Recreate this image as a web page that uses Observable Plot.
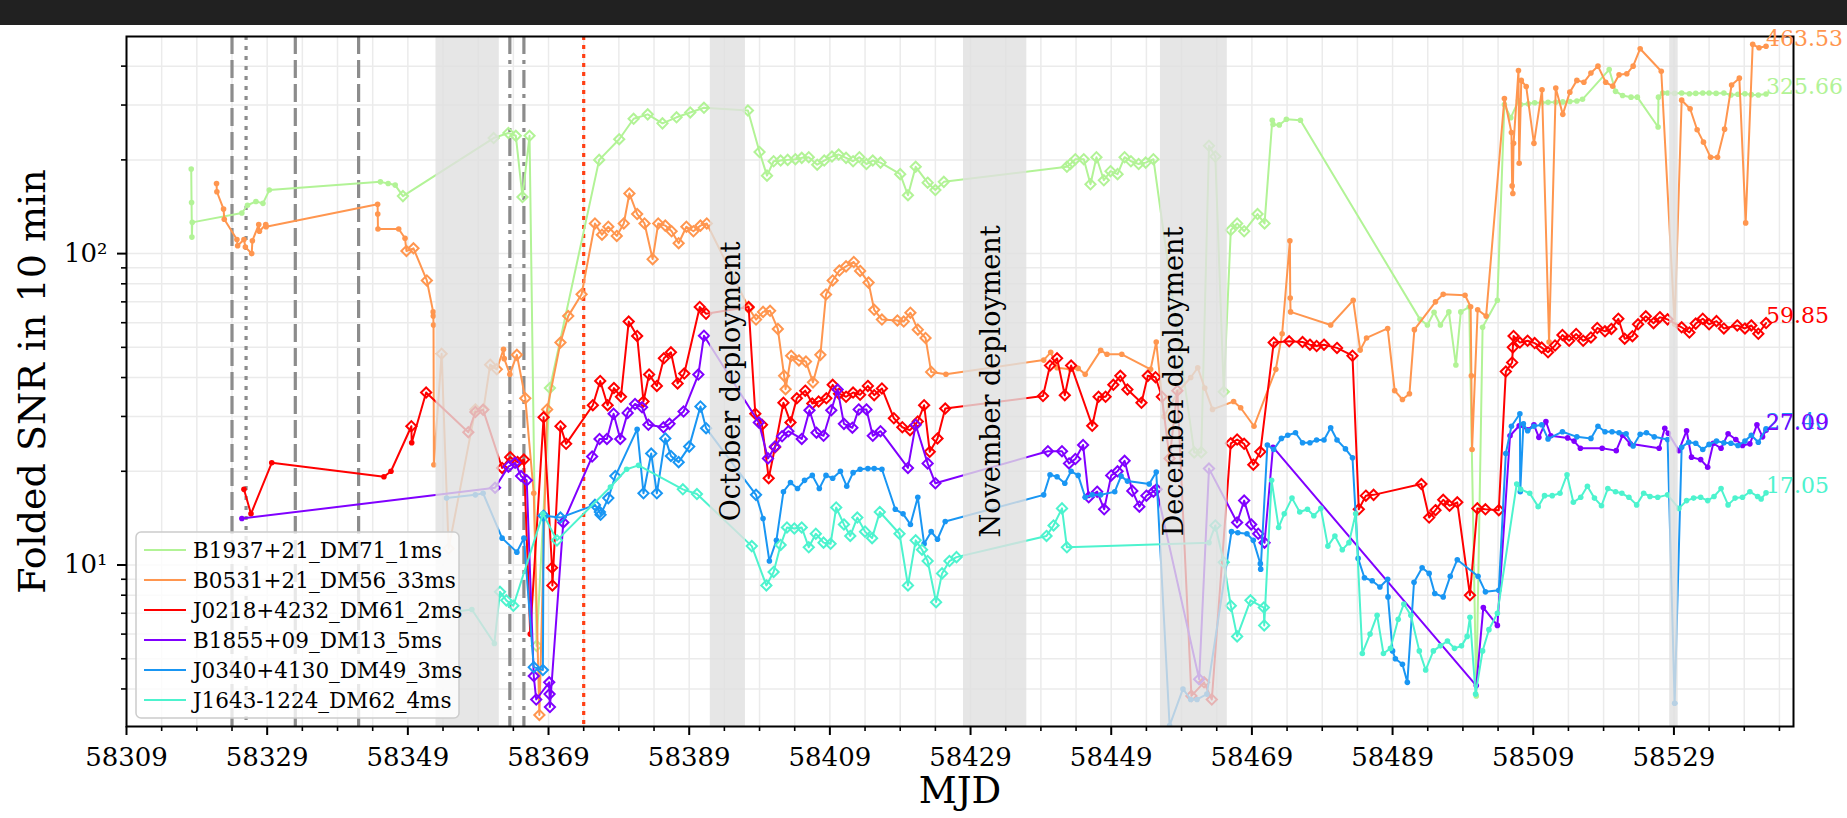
<!DOCTYPE html>
<html><head><meta charset="utf-8">
<script src="https://cdn.jsdelivr.net/npm/d3@7"></script>
<script src="https://cdn.jsdelivr.net/npm/@observablehq/plot@0.6"></script>
<style>
html,body{margin:0;padding:0;background:#fff;width:1847px;height:818px;overflow:hidden;}
#band{height:25px;background:#212121;}
#chart svg{display:block;}
</style></head><body>
<div id="band"></div>
<div id="chart"></div>
<script>
// ---------- data ----------
const seriesNames = ["B1937+21_DM71_1ms","B0531+21_DM56_33ms","J0218+4232_DM61_2ms","B1855+09_DM13_5ms","J0340+4130_DM49_3ms","J1643-1224_DM62_4ms"];
const seriesColors = ["#b2f396","#ff964f","#ff0000","#8000ff","#1996f3","#4df3ce"];

const B1937 = [[58318.2,187],[58318.25,146],[58318.3,113],[58318.35,126],[58325.4,135],[58326.2,143],[58327.4,147],[58328.4,145],[58329.3,160],
[58345.1,170],[58346.2,168],[58347.2,166],[58348.3,153],[58361.2,235],[58363.3,244],[58364.35,239],[58365.3,152],[58366.3,239],[58367.3,5.5],[58369.2,37],
[58376.2,200],[58379.05,233],[58381.1,271],[58383.1,280],[58385.2,262],[58387.2,274],[58389.15,284],[58391.1,294],
[58397.35,288],[58399.0,212],[58400.06,178],[58401.0,198],[58402.0,199],[58403,200],[58404.1,201],[58405.0,203],[58406.0,204],[58407.2,193],[58408.2,199],[58409.3,205],[58410.25,208],[58411.3,203],[58412.3,198],[58413.2,204],[58414.2,194],[58415.1,199],[58416.2,196],[58419.0,180],[58420.1,154],[58421.2,190],[58422.9,169],[58424.0,160],[58425.2,170],
[58442.7,190],[58443.2,194],[58443.9,201],[58445.1,201],[58446.05,167],[58446.9,204],[58447.95,172],[58448.9,184],[58449.9,180],[58450.9,204],[58451.8,198],[58452.9,194],[58453.9,196],[58455.0,201],
[58460.8,23],[58461.8,23],[58462.9,222],[58463.8,205],[58465.0,36],
[58466.0,119],[58466.9,125],[58467.9,118],[58469.8,134],[58470.8,125],[58471.9,268],[58472.0,260],[58472.9,259],[58473.9,270],[58475.9,268],
[58492.9,61.5],[58493.95,59],[58494.9,64.8],[58495.8,59],[58497.0,65],[58498.0,43.9],[58498.7,65],[58499.9,67.4],[58500.9,3.8],[58501.8,58],[58503.9,70.8],
[58504.9,301],[58505.8,273],[58506.9,310],[58507.2,301],[58508.3,303],[58509.2,305],[58510.2,305],[58511.1,306],[58512.2,306],[58513.2,307],[58514.2,308],[58515.2,309],[58516.0,313],
[58519.8,390],[58520.7,332],[58521.7,322],[58522.9,318],[58523.8,318],[58526.75,255],[58526.8,318],[58527.4,328],[58528.1,328],[58529.1,327],[58530.1,328],[58531.2,326],[58532.1,327],[58533.1,328],[58534.0,328],[58535.0,327],[58536.1,328],[58537.1,323],[58538.1,325],[58539.1,326],[58540.0,324],[58541.0,323],[58542.1,325.66]];

const B0531 = [[58321.8,168],[58321.85,158],[58322.8,139],[58322.9,129],[58324.7,111],[58324.8,106],[58325.7,111],[58325.9,105],[58326.8,100],[58326.9,110],[58327.8,124],[58327.9,118],[58328.8,124],[58328.85,122],
[58344.7,144],[58344.72,134],[58344.75,120],[58347.7,120],[58348.6,112],[58348.8,102],[58349.8,104],[58351.7,82],[58352.6,65],[58352.62,63],[58352.65,59],[58352.7,21],
[58353.8,47.7],[58354.8,11.3],[58358.6,31.6],[58359.75,31.6],[58360.7,44],[58361.65,42.5],
[58362.6,49.3],[58362.7,46],[58363.5,41],[58364.5,47.3],[58365.7,34.3],[58366.9,17],[58367.7,3.3],[58368.8,31.6],[58370.7,51.8],[58371.8,63],[58373.7,74],[58375.6,125],[58376.6,115],[58377.5,122],[58378.7,114],[58379.7,125],[58380.5,156],[58381.6,134],[58382.65,125],[58383.8,96],[58384.6,125],[58385.6,123],[58386.5,118],[58387.5,108],[58388.6,122],[58389.6,118],[58390.6,123],[58391.5,125],
[58397.45,67],[58398.5,61.4],[58399.5,65],[58400.5,65.5],[58401.6,57.3],[58402.5,40.5],[58402.7,36.7],[58403.5,47],[58404.6,45.4],[58405.6,45],[58406.6,38.6],[58407.65,47.3],[58408.45,73.9],[58409.4,82],[58410.35,88.2],[58411.3,91],[58412.4,94],[58413.3,88],[58414.5,80.7],[58415.3,66],[58416.4,61.4],[58418.6,61],[58419.5,60.5],[58420.45,64.6],[58421.5,57],[58422.6,53.6],[58423.4,41.7],[58425.5,41],
[58439.4,45.5],[58440.4,48.2],[58441.3,43],[58443.2,42.5],[58444.3,42.8],[58445.3,41],[58447.5,48.9],[58448.4,47.5],[58450.5,47.5],[58454.6,42.5],[58455.4,52],
[58456.5,30],[58458.5,36],[58460.3,40],[58461.3,43],[58462.3,37],[58463.4,31.6],
[58466.4,33.5],[58467.4,32],[58469.3,27.9],[58472.4,42.5],[58473.3,55.3],[58474.4,110],[58474.45,72],[58474.5,65],[58480.2,59],[58483.4,70.8],[58484.4,49],[58485.3,53.6],[58488.3,57.5],[58489.3,36.3],[58490.4,34],[58491.4,35.5],[58492.1,57],[58495.1,70],[58496.2,74],[58499.3,73.5],[58500.1,67.5],[58500.2,40.5],[58500.3,23.5],[58501.1,66],[58502.3,63],
[58504.9,315],[58505.9,245],[58506.0,165],[58506.1,156],[58506.2,226],[58506.9,387],[58507.0,195],[58507.3,360],[58508.0,344],[58509.1,226],[58510.25,336],[58511.25,52],[58512.2,340],[58513.2,280],[58514.2,330],[58515.2,360],[58516.2,355],[58517.2,380],[58518.2,400],[58519.3,355],[58520.3,345],[58521.2,375],[58522.3,378],[58523.2,400],[58524.2,455],[58527.2,385],[58529.1,59.3],[58530.1,311],[58531.3,292],[58532.3,250],[58533.2,228],[58534.2,204],[58535.2,204],[58536.2,251],[58537.2,348],[58538.3,366],[58539.2,125.5],[58540.2,470],[58541.1,458],[58542.1,463.53]];

const J0218 = [[58325.7,17.5],[58326.7,14.6],[58329.65,21.3],[58345.6,19.2],[58346.6,20],[58349.5,27.9],[58349.55,24.7],[58351.6,35.8],
[58357.6,26.7],[58358.6,31],[58359.7,31.5],[58362.4,20.5],[58363.55,22.2],[58364.6,21.4],[58365.5,21.8],[58366.4,6.0],[58368.3,29.8],[58369.5,9.8],[58369.55,8.6],[58370.7,27.9],[58371.5,24.5],[58375.3,32.6],[58376.35,39],[58377.4,32.6],[58378.3,37],[58379.3,34.7],[58380.4,60.5],[58381.6,54.4],[58382.5,33.5],[58383.3,40.9],[58384.4,37.6],[58385.4,46.1],[58386.4,48.2],[58387.35,38.3],[58388.3,41.2],[58390.5,67.4],[58391.4,64.1],
[58397.45,67.4],[58398.4,30.6],[58399.35,28.2],[58400.3,19.0],[58401.2,23.9],[58402.4,33.2],[58403.4,28.7],[58404.3,34.3],[58405.5,36.3],[58406.5,33],[58407.4,33.5],[58408.5,34.3],[58409.4,37.9],[58410.3,35.5],[58411.3,34.7],[58412.3,35.8],[58413.3,35.2],[58414.4,37.6],[58415.3,35.1],[58416.4,36.9],[58418.1,29.6],[58419.3,27.7],[58420.4,27.1],[58421.5,28.9],[58422.4,32.6],[58423.2,23.1],[58424.3,25.5],[58425.4,31.8],
[58439.3,34.9],[58440.3,43.7],[58441.3,46.1],[58442.4,35.1],[58443.3,43.7],[58446.3,28],[58447.2,34.7],[58448.2,34.7],[58449.3,37.9],[58450.3,40.5],[58451.3,36.6],[58453.3,33.2],[58454.2,40.5],[58455.3,40.1],
[58456.2,34.7],[58457.3,22],[58458.4,36.3],[58460.4,3.8],[58462.2,4.2],[58463.3,3.7],
[58466.0,24.6],[58466.9,25.3],[58467.9,24.5],[58469.2,21],[58470.2,23.1],[58472.1,51.8],[58474.3,52.3],[58476.2,52],[58477.25,51],[58478.2,50.5],[58479.25,51],[58481.1,49.8],[58483.3,47],[58484.2,15.1],[58485.2,16.7],[58486.3,16.8],[58493.1,18.2],[58494.2,14.2],[58495.1,15.0],[58496.2,16.2],[58497.1,15.5],[58498.2,15.9],[58500.0,8.0],[58501.05,15.2],[58502.2,15.1],[58504.1,15.0],[58505.1,41.8],[58506.0,44.7],[58506.1,50],[58506.2,54.4],[58507.1,51.8],
[58508.2,52.5],[58509.2,51.6],[58510.2,49.9],[58511.1,48.2],[58512.1,50.7],[58513.15,54.8],[58514.1,52.5],[58515.1,55.2],[58516.1,52.5],[58517.2,53.8],[58518.1,57.7],[58519.2,56.3],[58520.1,57.3],[58521.1,61.8],[58522.0,53.3],[58523.1,54.3],[58523.9,59.3],[58525.0,62.9],[58526.1,59.8],[58527.0,62.5],[58528.1,61.5],[58530.1,58],[58531.2,55.8],[58532.1,59.6],[58533.1,61.8],[58534.0,59.3],[58535.05,60.7],[58536.1,57.5],[58538.0,58.8],[58539.1,57.5],[58540.0,58.8],[58541.0,55.3],[58542.1,59.85]];

const B1855 = [[58325.4,14.1],[58361.4,17.7],[58363.3,20.7],[58364.25,21.3],[58365.1,19.3],[58365.9,18.7],[58366.9,4.4],[58367.25,3.7],[58369.1,4.2],[58369.15,3.85],[58369.2,3.5],[58371.1,13.7],[58375.2,22.3],[58376.25,25.4],[58377.3,25.4],[58378.25,30.6],[58379.2,25.4],[58380.25,30.8],[58381.3,32.9],[58382.3,32.1],[58383.2,28.2],[58385.35,27.7],[58386.2,28.4],[58388.2,31.1],[58390.3,40.9],[58391.1,54.5],
[58398.9,28.7],[58400.2,22.0],[58401.2,24],[58402.2,25.9],[58403.1,26.9],[58405.0,25.4],[58406.1,31.4],[58407.1,26.6],[58408.1,26.0],[58409.2,31.4],[58410.1,36.6],[58411.0,28.4],[58412.2,27.6],[58413.1,31.6],[58414.2,31.6],[58415.1,26],[58416.2,26.9],[58420.1,20.5],[58421.2,28.2],[58422.9,21.2],[58424.0,18.3],
[58440.0,23.2],[58442.0,23.2],[58443.0,21.2],[58443.9,21.9],[58445.0,24.3],[58445.8,16.5],[58447.0,17.2],[58448.0,15.1],[58449.0,19.4],[58449.9,20.0],[58450.9,21.6],[58452.0,17.3],[58453.0,15.4],[58454.0,16.7],[58455.0,17.2],[58455.45,17.5],
[58461.5,4.3],[58462.9,20.4],[58466.9,13.7],[58467.9,16.1],[58468.9,13.5],[58469.9,12.6],[58470.8,11.8],[58472.0,23.9],
[58500.9,4.1],[58501.9,7.3],[58503.9,6.4],[58505.7,26.0],[58507.0,28],[58508.2,27.2],[58509.1,28.2],[58509.8,25.7],[58510.8,28.9],[58511.5,26],[58513.9,25.6],[58514.8,25],[58515.7,23.7],[58518.8,23.7],[58520.8,23.3],[58521.7,26.1],[58522.8,24.5],[58526.9,23.7],[58527.7,27.5],[58528.2,26.5],[58529.7,23.3],[58530.8,27.0],[58531.5,22.2],[58532.8,21.8],[58533.8,20.6],[58534.6,24.6],[58535.7,23.7],[58536.7,26.4],[58537.8,25.3],[58538.75,24.2],[58539.8,24.5],[58540.8,28.2],[58541.6,25.8],[58542.1,27.09]];

const J0340 = [[58354.5,16.4],[58358.6,16.8],[58359.7,17.0],[58362.4,12.2],[58364.5,11.0],[58365.5,12.2],[58366.9,4.7],[58368.2,4.6],[58368.3,14.4],[58370.7,14.2],[58375.6,15.6],[58376.3,14.8],[58376.4,14.5],[58377.5,16.4],[58378.5,19.3],[58381.6,27.3],[58382.5,17.0],[58383.6,22.8],[58384.4,17.0],[58385.6,25.5],[58386.4,22.4],[58387.5,21.4],[58389.0,24],[58390.6,32.3],[58391.4,27.5],
[58398.5,16.8],[58399.5,14.1],[58400.4,10.3],[58401.4,12.0],[58402.4,17.2],[58403.4,18.4],[58404.4,17.6],[58405.4,18.7],[58406.5,19.4],[58407.5,17.6],[58408.45,19.4],[58409.4,19.0],[58410.5,20.0],[58411.4,17.9],[58412.3,19.8],[58413.3,20.3],[58414.4,20.4],[58415.3,20.4],[58416.4,20.3],[58418.3,15.1],[58419.4,14.6],[58420.45,13.5],[58421.5,16.5],[58422.4,11.7],[58423.4,12.8],[58424.3,12.1],[58425.4,13.8],
[58439.4,16.8],[58440.3,19.5],[58441.3,19.2],[58442.4,18.3],[58443.3,20],[58444.3,19.4],[58445.3,16.5],[58446.3,16.8],[58447.5,16.8],[58449.5,17.2],[58450.4,19.3],[58451.3,18.6],[58454.4,18.2],[58455.4,19.9],
[58457.3,3.05],[58459.2,4.0],[58460.3,3.7],[58461.2,3.7],[58462.6,3.85],
[58466.1,12.8],[58467.0,12.7],[58468.3,12.6],[58469.2,12.0],[58470.2,10.1],[58470.25,9.7],[58471.2,24.3],[58472.1,23.5],[58473.2,25.5],[58474.1,26.1],[58475.2,26.6],[58476.2,24.7],[58477.25,24.7],[58478.2,25.2],[58479.25,25.2],[58480.2,27.6],[58481.1,25.2],[58482.3,23.6],[58483.3,22.1],[58484.1,10.5],[58485.0,9.1],[58486.1,8.9],[58487.2,8.5],[58488.3,9.0],[58488.35,7.9],[58489.0,5.3],[58489.4,5.0],[58490.4,4.8],[58491.1,4.2],[58492.05,8.8],[58493.2,9.8],[58494.2,9.4],[58495.0,8.1],[58496.2,7.9],[58497.2,9.2],[58498.2,10.4],[58501.15,9.2],[58502.2,8.2],[58504.1,8.3],[58505.1,22.8],[58505.9,27.9],[58507.1,30.6],[58507.15,17.2],
[58507.6,28.4],[58508.2,27.0],[58509.1,27.9],[58510.2,28.2],[58511.1,25.4],[58513.15,26.8],[58515.2,25.8],[58517.2,25.5],[58518.2,27.9],[58519.2,26.8],[58520.2,26.8],[58521.2,26.6],[58522.2,26.4],[58523.2,24.1],[58524.2,26.3],[58525.1,26.6],[58526.2,25.8],[58528.1,25.3],[58529.1,3.6],[58530.1,23.9],[58531.1,24.8],[58532.1,24.6],[58533.1,23.5],[58534.0,24.4],[58535.05,25.0],[58536.1,24.7],[58537.1,24.6],[58538.1,24.2],[58539.1,25],[58540.0,26.1],[58541.0,24.8],[58542.1,27.40]];

const J1643 = [[58354.1,7.0],[58358.1,7.2],[58361.3,5.6],[58362.1,8.2],[58363.0,7.7],[58364.0,7.4],[58368.2,14.6],[58370.2,12.0],[58377.8,17.8],[58380.1,20.3],[58381.8,20.9],[58388.1,17.5],[58390.1,16.9],
[58397.9,11.5],[58399.97,8.6],[58401.0,9.5],[58402.0,11.6],[58402.9,13.2],[58403.95,13.1],[58405.0,13.2],[58406.0,11.4],[58407.0,12.6],[58408.1,11.8],[58409.1,11.7],[58409.9,15.3],[58411.0,13.5],[58411.9,12.4],[58412.9,14.2],[58414.0,12.8],[58415.0,12.2],[58416.1,14.8],[58418.9,12.6],[58420.1,8.6],[58421.2,12.0],[58422.1,11.2],[58422.9,10.3],[58424.1,7.6],[58424.95,9.4],[58426.0,10.3],[58427.0,10.6],
[58439.8,12.4],[58440.8,13.4],[58442.0,15.2],[58442.7,11.4],[58462.9,11.8],[58463.8,13.4],[58465.0,10.2],
[58466.0,7.4],[58466.9,5.9],[58468.8,7.7],[58470.7,7.3],[58470.75,6.4],[58471.8,18.7],[58472.8,13.2],[58473.6,14.6],[58474.7,16.4],[58475.8,14.8],[58476.9,15.1],[58477.8,14.4],[58478.8,15.2],[58479.8,11.5],[58480.8,12.4],[58481.85,11.2],[58482.8,11.8],[58483.75,14.6],[58484.7,5.2],[58485.8,6.0],[58486.8,6.9],[58487.7,5.2],[58488.7,5.4],[58489.8,6.7],[58490.6,7.5],[58491.6,6.9],[58492.8,5.3],[58493.7,4.6],[58494.8,5.3],[58495.8,5.5],[58496.8,5.7],[58497.8,5.4],[58498.8,5.5],[58499.6,5.9],[58500.0,6.8],[58500.8,3.85],[58501.8,5.3],[58502.7,6.2],[58503.9,7.0],[58506.65,18.2],
[58507.2,17.5],[58508.5,17.0],[58509.7,15.4],[58510.6,16.7],[58511.7,16.7],[58512.8,17.0],[58513.8,19.5],[58514.7,15.9],[58515.75,16.5],[58516.7,17.9],[58517.7,16.4],[58518.7,15.5],[58519.6,17.6],[58520.7,17.2],[58521.6,17.0],[58522.6,16.5],[58523.7,15.6],[58524.7,17.0],[58525.6,16.6],[58526.7,16.5],[58528.1,16.8],[58529.7,15.2],[58530.8,16.1],[58531.8,16.4],[58532.8,16.5],[58533.8,16.1],[58534.7,16.6],[58535.7,17.6],[58536.7,15.6],[58537.7,16.4],[58538.75,16.5],[58539.8,17.2],[58540.9,16.6],[58541.4,16.3],[58542.1,17.05]];

const seriesValues = [B1937, B0531, J0218, B1855, J0340, J1643];

// MJD ranges observed with the other backend (drawn with diamond markers)
const diamondRanges = [
  [[58348, 58471.5]],
  [[58348.7, 58352], [58353.5, 58362], [58363.8, 58366], [58367.5, 58424]],
  [[58349.3, 58349.52], [58351, 58366], [58367, 58545]],
  [[58361, 58471]],
  [[58366, 58380], [58382, 58392], [58398, 58399]],
  [[58362, 58364.5], [58370, 58371], [58388, 58391], [58397, 58428], [58439, 58443], [58463, 58471]]
];

const shadedSpans = [
  {start: 58353, end: 58362},
  {start: 58392, end: 58397},
  {start: 58428, end: 58437},
  {start: 58456, end: 58465.5},
  {start: 58528.4, end: 58529.6}
];
const deployments = [
  {x: 58395, label: "October deployment"},
  {x: 58432, label: "November deployment"},
  {x: 58458, label: "December deployment"}
];
const dashedEvents = [58324, 58333, 58342];
const dottedEvents = [58326];
const dashDotEvents = [58363.5, 58365.5];
const redDottedEvents = [58374];

const xMajorTicks = [58309, 58329, 58349, 58369, 58389, 58409, 58429, 58449, 58469, 58489, 58509, 58529];
const yMajorTicks = [10, 100];
const yTickLabels = ["10\u00B9", "10\u00B2"];
const yMinorTicks = [4,5,6,7,8,9,20,30,40,50,60,70,80,90,200,300,400];

// ---------- build ----------
const BAND = 25;
const W = 1847, H = 818 - BAND;
const xMinorTicks = d3.range(58309, 58546, 5).filter(t => !xMajorTicks.includes(t));
const font = "'DejaVu Serif', 'Liberation Serif', serif";

const inRanges = (m, rs) => rs.some(([a, b]) => m >= a && m <= b);

const marks = [
  Plot.gridX(d3.range(58309, 58546, 5), {stroke: "#ebebeb", strokeOpacity: 1, strokeWidth: 1.5}),
  Plot.gridY(yMajorTicks.concat(yMinorTicks), {stroke: "#ebebeb", strokeOpacity: 1, strokeWidth: 1.5}),
  Plot.ruleX(dashedEvents, {stroke: "#8c8c8c", strokeWidth: 3.2, strokeDasharray: "18,6"}),
  Plot.ruleX(dottedEvents, {stroke: "#8c8c8c", strokeWidth: 3.2, strokeDasharray: "4,6"}),
  Plot.ruleX(dashDotEvents, {stroke: "#8c8c8c", strokeWidth: 3.2, strokeDasharray: "18,6,4,6"}),
  Plot.ruleX(redDottedEvents, {stroke: "#ff3f14", strokeWidth: 3.2, strokeDasharray: "4,5"})
];

seriesNames.forEach((name, i) => {
  const rows = seriesValues[i].map(([mjd, snr]) => ({mjd, snr, diamond: inRanges(mjd, diamondRanges[i])}));
  const c = seriesColors[i];
  marks.push(Plot.line(rows, {x: "mjd", y: "snr", stroke: c, strokeWidth: 2, clip: true}));
  marks.push(Plot.dot(rows.filter(d => !d.diamond), {x: "mjd", y: "snr", r: 2.8, fill: c, clip: true}));
  marks.push(Plot.dot(rows.filter(d => d.diamond), {x: "mjd", y: "snr", r: 4.6, symbol: "diamond2", stroke: c, strokeWidth: 2, fill: "none", clip: true}));
});

marks.push(Plot.rect(shadedSpans, {x1: "start", x2: "end", fill: "#e0e0e0", fillOpacity: 0.8, ariaLabel: "spans"}));
marks.push(Plot.text(deployments, {x: "x", frameAnchor: "middle", text: "label", rotate: -90, textAnchor: "middle", fontSize: 27, fill: "black", fontFamily: font}));
marks.push(Plot.frame({stroke: "black", strokeWidth: 2}));

// axes
marks.push(Plot.axisX(xMinorTicks, {tickSize: 5, strokeWidth: 1.6, tickFormat: () => "", label: null}));
marks.push(Plot.axisX(xMajorTicks, {tickSize: 9, strokeWidth: 2, tickPadding: 12, tickFormat: d => String(d), fontSize: 26, fontFamily: font, label: null}));
marks.push(Plot.axisY(yMinorTicks, {tickSize: 5, strokeWidth: 1.6, tickFormat: () => "", label: null}));
marks.push(Plot.axisY(yMajorTicks, {tickSize: 9, strokeWidth: 2, tickPadding: 10, textAnchor: "end", tickFormat: d => yTickLabels[yMajorTicks.indexOf(d)], fontSize: 26, fontFamily: font, label: null}));

// axis titles
marks.push(Plot.text(["MJD"], {frameAnchor: "bottom", dy: 76, lineAnchor: "bottom", textAnchor: "middle", fontSize: 37, fontFamily: font, fill: "black"}));
marks.push(Plot.text(["Folded SNR in 10 min"], {frameAnchor: "left", dx: -94, rotate: -90, textAnchor: "middle", lineAnchor: "middle", fontSize: 38, fontFamily: font, fill: "black"}));

// end-value labels (purple drawn last so it sits on top of blue)
const labelOrder = [0, 1, 2, 4, 3, 5];
labelOrder.forEach(i => {
  const arr = seriesValues[i];
  const last = arr[arr.length - 1];
  marks.push(Plot.text([{mjd: last[0], snr: last[1]}], {
    x: "mjd", y: "snr", text: d => d.snr.toFixed(2), textAnchor: "start", lineAnchor: "bottom",
    fill: seriesColors[i], fontSize: 22, fontFamily: font
  }));
});

const plot = Plot.plot({
  width: W, height: H,
  marginTop: 36 - BAND, marginBottom: H - (726 - BAND), marginLeft: 126, marginRight: 54,
  style: {fontFamily: font, fontSize: "26px", background: "white", color: "black", overflow: "visible"},
  x: {type: "linear", domain: [58309, 58546]},
  y: {type: "log", domain: [3.03, 498]},
  marks
});
document.getElementById("chart").appendChild(plot);

// legend (inside the axes, under the shaded spans as in the original)
const spansG = plot.querySelector('g[aria-label="spans"]');
const leg = d3.create("svg:g").attr("class", "legend").attr("text-anchor", "start");
const LX = 136, LY = 532 - BAND;
leg.append("rect").attr("x", LX).attr("y", LY).attr("width", 323).attr("height", 186)
  .attr("rx", 5).attr("fill", "white").attr("fill-opacity", 0.8)
  .attr("stroke", "#cccccc").attr("stroke-width", 1.5);
seriesNames.forEach((name, i) => {
  const y = LY + 18 + 30 * i;
  leg.append("line").attr("x1", LX + 8).attr("x2", LX + 50).attr("y1", y).attr("y2", y)
    .attr("stroke", seriesColors[i]).attr("stroke-width", 2.2);
  leg.append("text").attr("x", LX + 57).attr("y", y).attr("dy", "0.35em")
    .attr("text-anchor", "start")
    .attr("font-size", 21.5).attr("font-family", font).attr("fill", "black").text(name);
});
if (spansG) plot.insertBefore(leg.node(), spansG); else plot.appendChild(leg.node());
</script>
</body></html>
